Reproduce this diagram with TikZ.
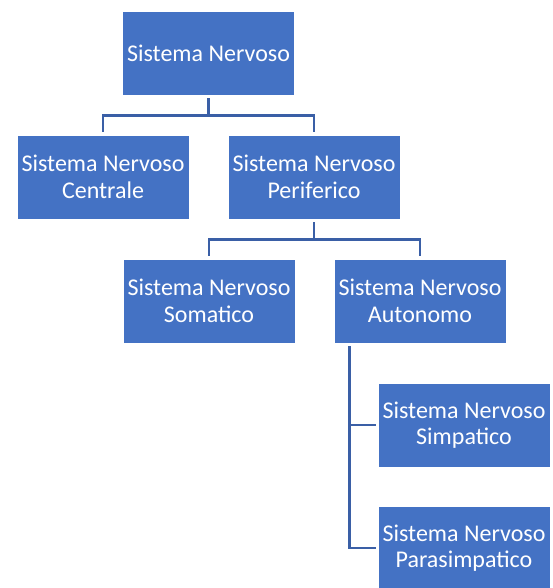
\documentclass[tikz,border=0pt]{standalone}
\usepackage{fontspec}
\setmainfont{Carlito}
\usetikzlibrary{positioning}

\definecolor{boxblue}{HTML}{4472C4}
\definecolor{linkblue}{HTML}{3A5FA6}

\begin{document}
\begin{tikzpicture}[x=1pt, y=1pt,
    sysbox/.style = {fill=boxblue, draw=white, line width=0.8pt,
      minimum width=172pt, minimum height=84pt, inner sep=0pt,
      text=white, align=center, font=\fontsize{24}{26.5}\selectfont},
    link/.style = {draw=linkblue, line width=2.4pt}]
    \useasboundingbox (0, 0) rectangle (552, 588);

    \node [sysbox] (root) at (208.5, 535) {Sistema Nervoso};
    \node [sysbox] (cen) at (103, 411) {Sistema Nervoso\\Centrale};
    \node [sysbox] (per) at (314, 411) {Sistema Nervoso\\Periferico};
    \node [sysbox] (som) at (209, 287) {Sistema Nervoso\\Somatico};
    \node [sysbox] (aut) at (420, 287) {Sistema Nervoso\\Autonomo};
    \node [sysbox] (sim) at (464, 163) {Sistema Nervoso\\Simpatico};
    \node [sysbox] (par) at (464, 40) {Sistema Nervoso\\Parasimpatico};

    \foreach \kid in {cen, per} {
      \draw [link] ([yshift=-3pt]root.south) -- ++(0, -17) -| ([yshift=3pt]\kid.north);
    }
    \foreach \kid in {som, aut} {
      \draw [link] ([yshift=-3pt]per.south) -- ++(0, -17) -| ([yshift=3pt]\kid.north);
    }

    \coordinate (trunk) at ([xshift=16pt, yshift=-3pt]aut.south west);
    \foreach \kid in {sim, par} {
      \draw [link] (trunk) |- ([xshift=-2pt]\kid.west);
    }
  \end{tikzpicture}
\end{document}
